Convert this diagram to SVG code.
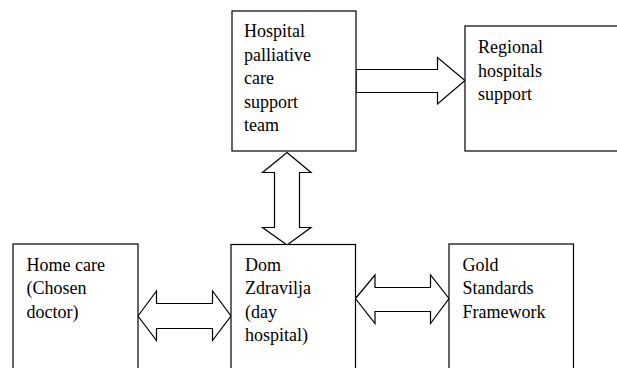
<svg xmlns="http://www.w3.org/2000/svg" width="617" height="368" viewBox="0 0 617 368">
<style>
.box{fill:#fff;stroke:#000;stroke-width:1.2}
.arr{fill:#fff;stroke:#000;stroke-width:1.2;stroke-linejoin:miter}
</style>
<rect width="617" height="368" fill="#fff"/>
<g id="connectors">
<path class="arr" d="M356,69.5 H437.5 V57.5 L465,80.5 L437.5,104 V92.5 H356 Z"/>
<path class="arr" d="M287,152.5 L311,172.5 H299.5 V227.5 H311 L287,245 L262.5,227.5 H274.5 V172.5 H262.5 Z"/>
<path class="arr" d="M138,316 L156.5,291 V303.5 H212.5 V291 L231,316 L212.5,340.5 V328.5 H156.5 V340.5 Z"/>
<path class="arr" d="M355.5,298.5 L375,275 V287.5 H430.5 V275 L449,298.5 L430.5,323.5 V311.5 H375 V323.5 Z"/>
</g>
<g id="hospital">
<rect class="box" x="232" y="11" width="124" height="140"/>
<text x="244" y="37" font-family="Liberation Serif" font-size="18">Hospital</text>
<text x="244" y="60.5" font-family="Liberation Serif" font-size="18">palliative</text>
<text x="244" y="84" font-family="Liberation Serif" font-size="18">care</text>
<text x="244" y="107.5" font-family="Liberation Serif" font-size="18">support</text>
<text x="244" y="131" font-family="Liberation Serif" font-size="18">team</text>
</g>
<g id="regional">
<rect class="box" x="465" y="26" width="160" height="125"/>
<text x="478" y="53" font-family="Liberation Serif" font-size="18">Regional</text>
<text x="478" y="76.5" font-family="Liberation Serif" font-size="18">hospitals</text>
<text x="478" y="100" font-family="Liberation Serif" font-size="18">support</text>
</g>
<g id="homecare">
<rect class="box" x="13" y="244" width="125" height="140"/>
<text x="26.5" y="270.5" font-family="Liberation Serif" font-size="18">Home care</text>
<text x="26.5" y="294" font-family="Liberation Serif" font-size="18">(Chosen</text>
<text x="26.5" y="317.5" font-family="Liberation Serif" font-size="18">doctor)</text>
</g>
<g id="dom">
<rect class="box" x="231" y="244.5" width="124.5" height="140"/>
<text x="245" y="270.5" font-family="Liberation Serif" font-size="18">Dom</text>
<text x="245" y="294" font-family="Liberation Serif" font-size="18">Zdravilja</text>
<text x="245" y="317.5" font-family="Liberation Serif" font-size="18">(day</text>
<text x="245" y="341" font-family="Liberation Serif" font-size="18">hospital)</text>
</g>
<g id="gold">
<rect class="box" x="449" y="244" width="124.5" height="140"/>
<text x="462.5" y="270.5" font-family="Liberation Serif" font-size="18">Gold</text>
<text x="462.5" y="294" font-family="Liberation Serif" font-size="18">Standards</text>
<text x="462.5" y="317.5" font-family="Liberation Serif" font-size="18">Framework</text>
</g>
</svg>
